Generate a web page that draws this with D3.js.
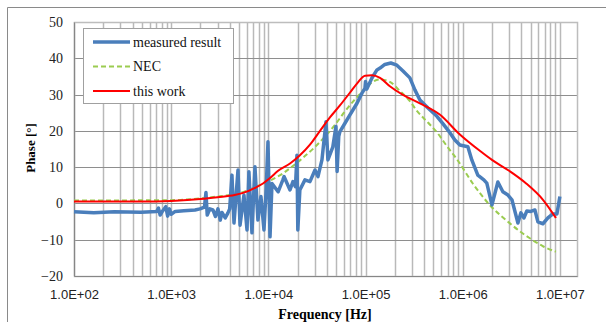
<!DOCTYPE html>
<html>
<head>
<meta charset="utf-8">
<script src="https://cdn.jsdelivr.net/npm/d3@7"></script>
<style>
body { margin: 0; background: #fff; }
svg { display: block; }
</style>
</head>
<body>
<svg id="chart" width="606" height="322"></svg>
<script>
// [frequency Hz, phase deg]
var measured = [
    [100, -2.3], [160, -2.6], [260, -2.3], [490, -2.4], [710, -2.2], [740, -1.3], [770, -3.2],
    [820, -2.0], [880, -0.9], [920, -3.5], [960, -1.5], [1000, -3.0], [1100, -2.2], [1350, -2.0],
    [1760, -1.8], [1980, -1.5], [2200, -1.0], [2280, 3.0], [2350, -3.2], [2500, -1.5], [2690, -1.8],
    [2850, -3.6], [3030, -1.5], [3200, -4.6], [3330, -2.5], [3600, -4.0], [3840, -2.6], [4000, -1.5],
    [4220, 7.8], [4430, -5.4], [4870, 9.2], [5110, -6.0], [5610, 2.3], [6030, -7.3], [6310, 8.7],
    [6780, -8.1], [7280, 10.1], [7810, -4.6], [8390, 1.9], [9010, -7.3], [9500, 4.0], [9910, 17.0],
    [10400, -9.2], [10900, 5.5], [12600, 3.2], [14100, 6.5], [14500, 7.4], [16700, 3.7], [17900, 6.0],
    [19000, 4.6], [19700, 13.3], [20100, -7.3], [21100, 3.7], [23800, 6.5], [26800, 6.0], [30200, 9.2],
    [32400, 7.4], [35600, 12.0], [39200, 22.5], [41000, 12.0], [46000, 15.5], [49600, 21.2], [51000, 8.8],
    [53000, 18.5], [54500, 19.8], [61400, 22.1], [69100, 24.4], [81700, 27.6], [91900, 30.4],
    [98600, 31.7], [100000, 33.6], [103000, 31.5], [116000, 34.5], [131000, 36.8], [141000, 37.3],
    [158000, 38.3], [182000, 38.7], [210000, 38.1], [243000, 36.5], [286000, 34.6], [322000, 31.3],
    [363000, 28.5], [439000, 26.3], [543000, 24.0], [625000, 22.0], [738000, 19.5], [831000, 17.5],
    [935000, 16.1], [1130000, 15.6], [1240000, 12.0], [1430000, 7.8], [1650000, 6.5], [1770000, 5.6],
    [2000000, -0.4], [2300000, 5.9], [2590000, 3.2], [2920000, 2.3], [3210000, 1.0], [3700000, -5.4],
    [3970000, -2.6], [4260000, -4.0], [4570000, -2.1], [5030000, -2.2], [5530000, -1.8], [5940000, -5.1],
    [6690000, -5.6], [7530000, -4.0], [8470000, -2.9], [9320000, -2.9], [10000000, 1.9]
];
var nec = [
    [100, 0.8], [1000, 0.9], [2000, 1.4], [3000, 1.9], [5000, 2.8], [7800, 4.8], [10400, 6.3],
    [14000, 8.2], [16700, 9.7], [21000, 11.8], [30000, 15.5], [48000, 21.5], [60000, 25.0],
    [75000, 28.2], [88000, 30.2], [103000, 32.2], [141000, 34.2], [178000, 33.5], [226000, 31.0],
    [286000, 28.2], [338000, 25.5], [439000, 22.3], [543000, 19.6], [700000, 15.5], [871000, 12.2],
    [1270000, 5.5], [1910000, -0.5], [3060000, -5.5], [4160000, -8.3], [4910000, -9.6],
    [6700000, -11.8], [9100000, -13.3]
];
var thisWork = [
    [100, 0.5], [500, 0.5], [1000, 0.7], [2000, 1.2], [3000, 1.7], [4500, 2.3], [5500, 2.9],
    [7300, 4.3], [8800, 5.5], [10400, 7.0], [12600, 9.0], [16700, 11.0], [21000, 13.2], [26800, 16.2],
    [34000, 20.0], [43000, 23.7], [54500, 27.0], [69000, 30.5], [82000, 33.1], [99000, 35.2],
    [116000, 35.3], [141000, 34.6], [178000, 32.3], [243000, 29.9], [363000, 27.6], [580000, 24.5],
    [935000, 19.0], [1500000, 14.5], [2000000, 12.0], [3000000, 9.0], [4500000, 5.5],
    [6700000, 1.0], [9100000, -4.0]
];
var xTickValues = [1e2, 1e3, 1e4, 1e5, 1e6, 1e7];
var yTickValues = [-20, -10, 0, 10, 20, 30, 40, 50];
var legendLabels = ["measured result", "NEC", "this work"];

(function () {
    var svg = d3.select("#chart"),
        plotLeft = 74, plotRight = 577, plotTop = 22, plotBottom = 276,
        serif = "'Liberation Serif', 'Times New Roman', serif",
        sans = "'Liberation Sans', Arial, sans-serif";

    var x = d3.scaleLog().domain([1e2, 1.5e7]).range([plotLeft, plotRight]),
        y = d3.scaleLinear().domain([-20, 50]).range([plotBottom, plotTop]);

    // outer chart frame, cut off at the right and bottom
    svg.append("path")
        .attr("d", "M7.5,322V7.5H606")
        .attr("fill", "none")
        .attr("stroke", "#8a8a8a");

    // grid
    var grid = svg.append("g");
    grid.selectAll(".vgrid")
        .data(x.ticks())
      .enter().append("line")
        .attr("class", "vgrid")
        .attr("x1", function (d) { return Math.round(x(d)) + 0.5; })
        .attr("x2", function (d) { return Math.round(x(d)) + 0.5; })
        .attr("y1", plotTop)
        .attr("y2", plotBottom)
        .attr("stroke", "#b9b9b9")
        .attr("stroke-width", 1.5);
    grid.selectAll(".hgrid")
        .data(yTickValues)
      .enter().append("line")
        .attr("class", "hgrid")
        .attr("x1", plotLeft)
        .attr("x2", plotRight)
        .attr("y1", function (d) { return Math.round(y(d)) + 0.5; })
        .attr("y2", function (d) { return Math.round(y(d)) + 0.5; })
        .attr("stroke", "#8e8e8e")
        .attr("stroke-width", 1.2);

    svg.append("rect")
        .attr("x", plotLeft + 0.5)
        .attr("y", plotTop + 0.5)
        .attr("width", plotRight - plotLeft)
        .attr("height", plotBottom - plotTop)
        .attr("fill", "none")
        .attr("stroke", "#bdbdbd")
        .attr("stroke-width", 1.5);

    // axes
    var expLabel = function (d) {
        var e = Math.round(Math.log10(d));
        return "1.0E+" + (e < 10 ? "0" : "") + e;
    };
    var xAxis = svg.append("g")
        .attr("transform", "translate(0," + plotBottom + ")")
        .call(d3.axisBottom(x).tickValues(xTickValues).tickFormat(expLabel).tickSize(0).tickPadding(14));
    xAxis.select(".domain").attr("stroke", "#868686");
    xAxis.selectAll("text")
        .style("font-family", sans)
        .style("font-size", "13px")
        .attr("fill", "#222");

    var yAxis = svg.append("g")
        .attr("transform", "translate(" + plotLeft + ",0)")
        .call(d3.axisLeft(y).tickValues(yTickValues).tickSize(0).tickPadding(11));
    yAxis.select(".domain").attr("stroke", "#868686");
    yAxis.selectAll("text")
        .style("font-family", serif)
        .style("font-size", "14px")
        .attr("fill", "#222");

    svg.append("text")
        .attr("x", 325)
        .attr("y", 319)
        .attr("text-anchor", "middle")
        .style("font-family", serif)
        .style("font-size", "14px")
        .style("font-weight", "bold")
        .text("Frequency [Hz]");
    svg.append("text")
        .attr("transform", "translate(35,148) rotate(-90)")
        .attr("text-anchor", "middle")
        .style("font-family", serif)
        .style("font-size", "13px")
        .style("font-weight", "bold")
        .text("Phase [°]");

    // series
    var line = d3.line()
        .x(function (d) { return x(d[0]); })
        .y(function (d) { return y(d[1]); });
    var smooth = d3.line()
        .x(function (d) { return x(d[0]); })
        .y(function (d) { return y(d[1]); })
        .curve(d3.curveMonotoneX);

    var styles = [
        { color: "#4a7ebb", width: 3.5, dash: null },
        { color: "#9bcc50", width: 2, dash: "5,3" },
        { color: "#ff0000", width: 2, dash: null }
    ];

    svg.append("path")
        .datum(nec)
        .attr("d", smooth)
        .attr("fill", "none")
        .attr("stroke", styles[1].color)
        .attr("stroke-width", styles[1].width)
        .attr("stroke-dasharray", styles[1].dash);
    svg.append("path")
        .datum(measured)
        .attr("d", line)
        .attr("fill", "none")
        .attr("stroke", styles[0].color)
        .attr("stroke-width", styles[0].width)
        .attr("stroke-linejoin", "round");
    svg.append("path")
        .datum(thisWork)
        .attr("d", smooth)
        .attr("fill", "none")
        .attr("stroke", styles[2].color)
        .attr("stroke-width", styles[2].width);

    // legend
    var legend = svg.append("g");
    legend.append("rect")
        .attr("x", 83.5)
        .attr("y", 28.5)
        .attr("width", 150)
        .attr("height", 75)
        .attr("fill", "#fff")
        .attr("stroke", "#a0a0a0");
    var rows = legend.selectAll(".row")
        .data(legendLabels)
      .enter().append("g")
        .attr("class", "row")
        .attr("transform", function (d, i) { return "translate(0," + (42 + i * 24.5) + ")"; });
    rows.append("line")
        .attr("x1", 93)
        .attr("x2", 130)
        .attr("stroke", function (d, i) { return styles[i].color; })
        .attr("stroke-width", function (d, i) { return styles[i].width; })
        .attr("stroke-dasharray", function (d, i) { return styles[i].dash; });
    rows.append("text")
        .attr("x", 133)
        .attr("dy", "0.35em")
        .style("font-family", serif)
        .style("font-size", "14px")
        .attr("fill", "#111")
        .text(function (d) { return d; });
})();
</script>
</body>
</html>
